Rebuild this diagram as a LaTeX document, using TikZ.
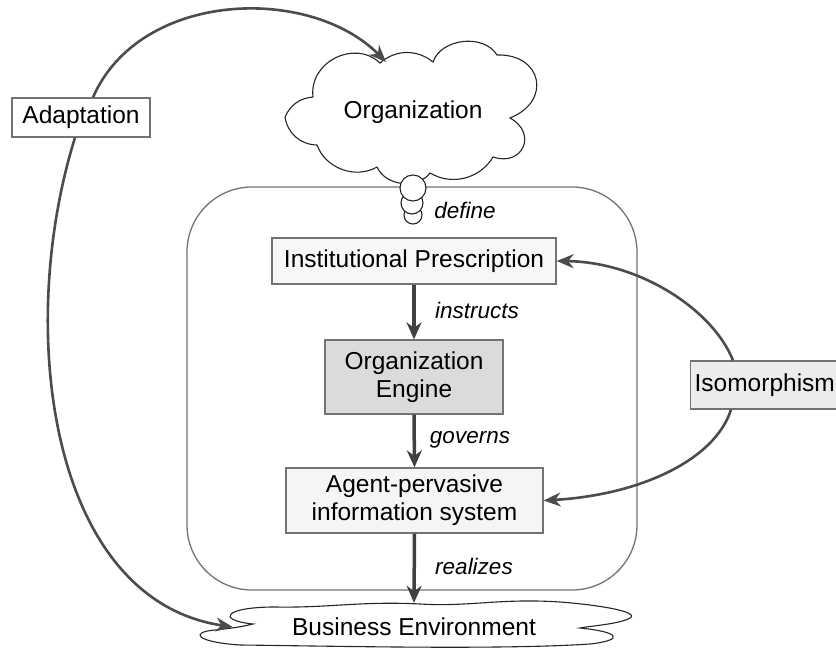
\documentclass[tikz,border=0pt]{standalone}
\usepackage{fontspec}
\setmainfont{Liberation Sans}
\usetikzlibrary{arrows.meta,calc}
\tikzset{
  box/.style={draw=black!55, line width=1.3pt, font=\fontsize{24.5}{28}\selectfont, align=center, inner sep=0pt},
  lbl/.style={font=\fontsize{22.5}{26}\selectfont\itshape, inner sep=0pt},
  flow/.style={draw=black!75, line width=3.5pt, -{Stealth[length=17pt,width=15pt]}},
  curvearrow/.style={draw=black!70, line width=2.6pt, -{Stealth[length=17pt,width=14pt]}},
  cloudline/.style={draw=black!85, line width=1.1pt, fill=white},
  framebox/.style={draw=black!55, line width=1.3pt, rounded corners=65pt},
}
\begin{document}
\begin{tikzpicture}[x=1pt,y=1pt]
\clip (0,0) rectangle (836,-652);
\fill[white] (0,0) rectangle (836,-652);

% container
\node[framebox, minimum width=450pt, minimum height=403pt] (frame) at (412,-388.5) {};

% Organization cloud
\draw[cloudline] (380,-63) to[bend left=40] (433,-62)
  to[bend left=65] (497,-55)
  to[bend left=80, looseness=1.8] (510,-118)
  to[bend left=85, looseness=1.9] (493,-157)
  to[bend left=45] (430,-173)
  to[bend left=60] (377,-167)
  to[bend left=50] (317,-145)
  to[bend left=40] (285,-117)
  to[bend left=30] (313,-97)
  to[bend left=70, looseness=1.2] cycle;
\node[font=\fontsize{24.5}{28}\selectfont] (org) at (413,-112) {Organization};
\coordinate (orgtip) at (386,-62);

% thought bubbles
\draw[cloudline] (413,-215) circle (9);
\draw[cloudline] (412,-203) circle (11);
\draw[cloudline] (413,-188) circle (13);

% Business Environment cloud
\draw[cloudline] (253,-624)
  .. controls (215,-620) and (225,-607) .. (275,-607)
  .. controls (330,-608) and (360,-601) .. (420,-604)
  .. controls (470,-607) and (500,-598) .. (560,-602)
  .. controls (600,-605) and (640,-612) .. (630,-618)
  .. controls (620,-624) and (590,-626) .. (580,-628)
  .. controls (620,-632) and (625,-640) .. (590,-644)
  .. controls (500,-650) and (330,-646) .. (240,-645)
  .. controls (195,-642) and (190,-632) .. (215,-630)
  .. controls (235,-628) and (245,-626) .. cycle;
\node[font=\fontsize{24.5}{28}\selectfont, minimum width=362pt, minimum height=48pt, inner sep=0pt] (be) at (414,-627) {Business Environment};

% boxes
\node[box, fill=gray!6, minimum width=284pt, minimum height=46pt] (ip) at (414,-261) {Institutional Prescription};
\node[box, fill=gray!28, minimum width=178pt, minimum height=74pt] (oe) at (414,-377) {Organization\\Engine};
\node[box, fill=gray!8, minimum width=257pt, minimum height=65pt] (ap) at (414.5,-500.5) {Agent-pervasive\\information system};
\node[box, fill=white, minimum width=138pt, minimum height=39pt] (adapt) at (81,-117.5) {Adaptation};
\node[box, fill=gray!15, anchor=west, minimum height=48pt, inner xsep=4pt] (iso) at (690,-385) {Isomorphism};

% labels
\node[lbl] (ldefine) at (465,-210) {define};
\node[lbl] (linstructs) at (477,-310) {instructs};
\node[lbl] (lgoverns) at (470,-440) {governs};
\node[lbl] (lrealizes) at (474,-566) {realizes};

% flow arrows
\draw[flow] (ip.south) -- (oe.north);
\draw[flow] (oe.south) -- (ap.north);
\draw[flow] (ap.south) -- (be.north);

% curved arrows
\draw[curvearrow] ([xshift=12pt]adapt.north) .. controls (140,10) and (310,15) .. (orgtip);
\draw[curvearrow] ([xshift=-6pt]adapt.south) .. controls (15,-330) and (50,-600) .. (be.west);
\draw[curvearrow] ([xshift=43pt]iso.north west) .. controls (713,-310) and (640,-262) .. (ip.east);
\draw[curvearrow] ([xshift=41pt]iso.south west) .. controls (715,-460) and (640,-495) .. (ap.east);
\end{tikzpicture}
\end{document}
